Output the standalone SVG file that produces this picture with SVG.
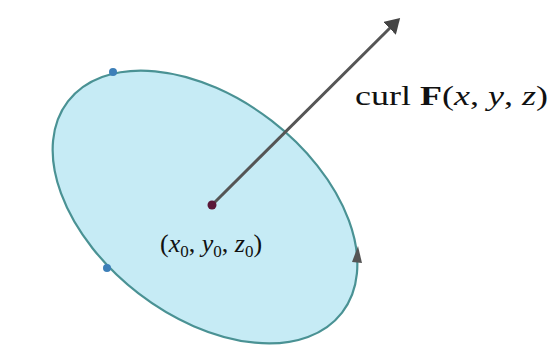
<svg xmlns="http://www.w3.org/2000/svg" width="552" height="347" viewBox="0 0 552 347">
<style>
.surf{fill:#c6ebf5;stroke:#4a9294;stroke-width:2.2}
.pt{fill:#3d7fb8}
.vec{stroke:#555;stroke-width:3;fill:none}
.lbl{font-family:"Liberation Serif","DejaVu Serif",serif;fill:#111}
.sub{font-size:17px}
</style>
<defs>
<marker id="ah" markerWidth="6" markerHeight="6" refX="4" refY="3" orient="auto" markerUnits="strokeWidth">
<path d="M0,0 L5,3 L0,6 Z" fill="#444"/>
</marker>
</defs>
<g id="surface">
<ellipse class="surf" cx="205" cy="207" rx="173" ry="109" transform="rotate(37.6 205 207)"/>
<path d="M352,262 L358,246 L362,263 Z" fill="#555"/>
<circle class="pt" cx="113" cy="72" r="4"/>
<circle class="pt" cx="107" cy="268" r="4"/>
</g>
<g id="connectors">
<line class="vec" x1="212" y1="205" x2="398" y2="20" marker-end="url(#ah)"/>
</g>
<g id="point">
<circle cx="212" cy="205" r="4.5" fill="#5a1838"/>
<text class="lbl" x="160" y="252" font-size="26">(<tspan font-style="italic">x</tspan><tspan class="sub" dy="5">0</tspan><tspan dy="-5">, </tspan><tspan font-style="italic">y</tspan><tspan class="sub" dy="5">0</tspan><tspan dy="-5">, </tspan><tspan font-style="italic">z</tspan><tspan class="sub" dy="5">0</tspan><tspan dy="-5">)</tspan></text>
</g>
<g id="curl-label">
<text class="lbl" x="355" y="105" font-size="28" textLength="193" lengthAdjust="spacingAndGlyphs">curl <tspan font-weight="bold">F</tspan>(<tspan font-style="italic">x</tspan>, <tspan font-style="italic">y</tspan>, <tspan font-style="italic">z</tspan>)</text>
</g>
</svg>
